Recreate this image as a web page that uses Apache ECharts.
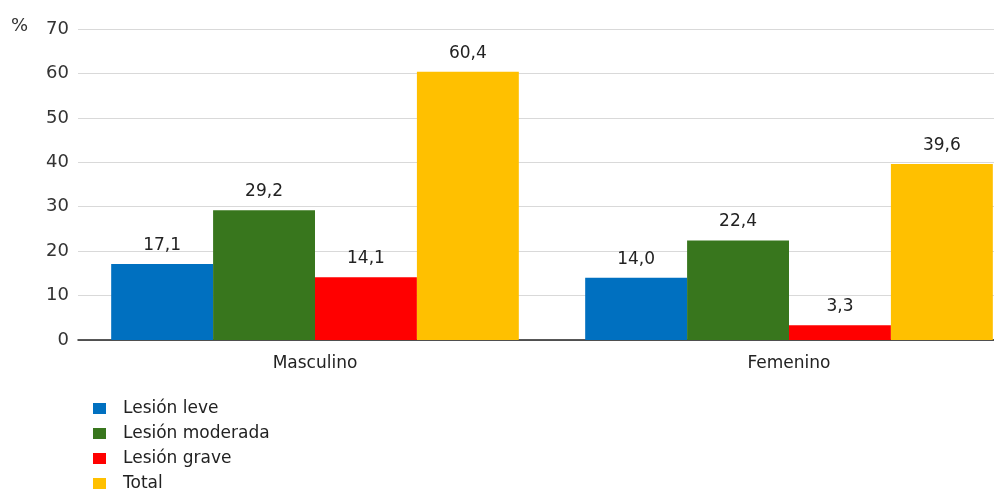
<!DOCTYPE html>
<html>
<head>
<meta charset="utf-8">
<script src="https://cdn.jsdelivr.net/npm/echarts@6/dist/echarts.min.js"></script>
<style>
  html, body { margin: 0; padding: 0; background: #fff; overflow: hidden; }
  #chart { width: 1030px; height: 500px; }
</style>
</head>
<body>
<div id="chart"></div>
<script>
const categories = ['Masculino', 'Femenino'];
const seriesNames = ['Lesión leve', 'Lesión moderada', 'Lesión grave', 'Total'];
const leve = [17.1, 14.0];
const moderada = [29.2, 22.4];
const grave = [14.1, 3.3];
const total = [60.4, 39.6];
const colors = ['#0070C0', '#38761D', '#FF0000', '#FFC000'];

const fontFamily = '"DejaVu Sans", Verdana, sans-serif';
const chart = echarts.init(document.getElementById('chart'));

const fmt = p => p.value.toFixed(1).replace('.', ',');

const valueSets = [leve, moderada, grave, total];
const series = valueSets.map((vals, i) => ({
  name: seriesNames[i],
  type: 'bar',
  data: vals,
  barGap: '0%',
  barCategoryGap: '14%',
  itemStyle: { color: colors[i] },
  label: {
    show: true,
    position: 'top',
    distance: 10,
    formatter: fmt,
    color: '#222',
    fontSize: 17,
    fontFamily
  }
}));

chart.setOption({
  animation: false,
  color: colors,
  grid: { left: 78, right: 4, top: 29, bottom: 160, containLabel: false },
  xAxis: {
    type: 'category',
    data: categories,
    axisLine: { lineStyle: { color: '#222', width: 1.5 } },
    axisTick: { show: false },
    axisLabel: { color: '#222', fontSize: 17, fontFamily, margin: 15 }
  },
  yAxis: {
    type: 'value',
    min: 0,
    max: 70,
    interval: 10,
    axisLine: { show: false },
    axisTick: { show: false },
    axisLabel: { color: '#333', fontSize: 18, fontFamily, margin: 9 },
    splitLine: { lineStyle: { color: '#d9d9d9', width: 1 } }
  },
  graphic: [{
    type: 'text',
    left: 11,
    top: 17,
    style: { text: '%', fill: '#333', font: '18px ' + fontFamily }
  }],
  legend: {
    orient: 'vertical',
    left: 88,
    top: 395,
    itemWidth: 13,
    itemHeight: 11,
    itemGap: 8,
    icon: 'rect',
    data: seriesNames,
    textStyle: { color: '#222', fontSize: 17, fontFamily, padding: [0, 0, 0, 12] }
  },
  series
});
</script>
</body>
</html>
